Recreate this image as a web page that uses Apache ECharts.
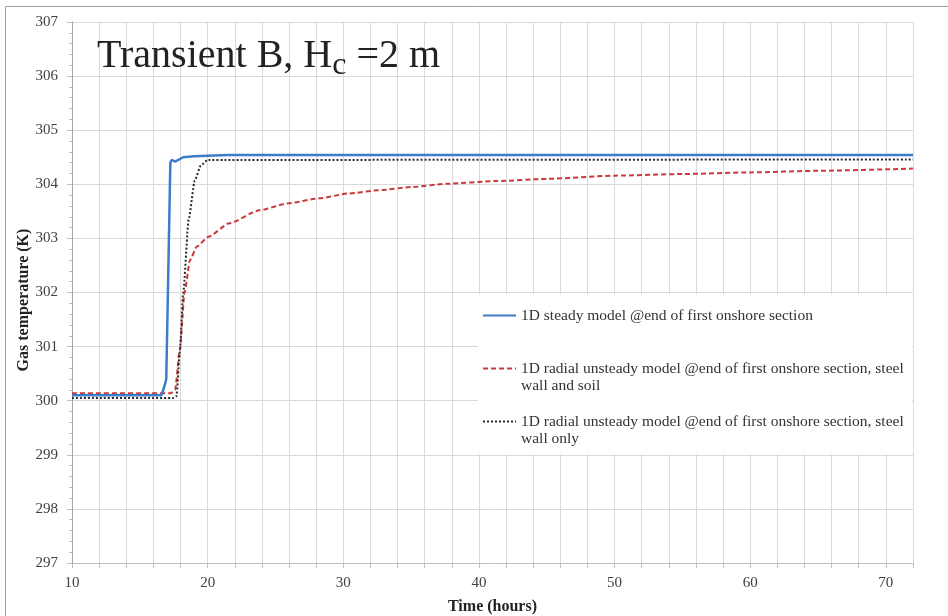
<!DOCTYPE html>
<html>
<head>
<meta charset="utf-8">
<script src="https://cdn.jsdelivr.net/npm/echarts@6/dist/echarts.min.js"></script>
<style>html,body{margin:0;padding:0;background:#fff}#c{width:948px;height:616px}</style>
</head>
<body>
<div id="c"></div>
<script>
// ---- data ----
var seriesNames = [
  '1D steady model @end of first onshore section',
  '1D radial unsteady model @end of first onshore section, steel wall and soil',
  '1D radial unsteady model @end of first onshore section, steel wall only'
];
var steadyT = [10, 16.6, 16.85, 16.95, 17.25, 17.35, 17.6, 18.2, 19.0, 21.5, 72];
var steadyK = [300.1, 300.1, 300.3, 300.4, 304.4, 304.45, 304.42, 304.5, 304.52, 304.54, 304.54];
var soilT = [10, 17.3, 17.6, 17.95, 18.3, 18.7, 19.2, 20.05, 21.6, 23.8, 26, 28.2, 30.4, 32.6, 35.1, 37.6, 41.3, 45, 50, 55, 60, 65, 72];
var soilK = [300.14, 300.14, 300.2, 300.94, 302.0, 302.6, 302.85, 303.03, 303.28, 303.52, 303.65, 303.74, 303.83, 303.89, 303.95, 304.01, 304.06, 304.1, 304.16, 304.19, 304.22, 304.25, 304.29];
var wallT = [10, 17.5, 17.7, 17.95, 18.2, 18.6, 19.05, 19.5, 20.0, 72];
var wallK = [300.05, 300.05, 300.08, 300.9, 302.0, 303.35, 304.07, 304.35, 304.45, 304.46];
var xTickLabels = [10, 20, 30, 40, 50, 60, 70];

function zip(t, k) { return t.map(function (v, i) { return [v, k[i]]; }); }

var FONT = 'Liberation Serif';
var chart = echarts.init(document.getElementById('c'), null, { renderer: 'canvas' });

// two-line entries get a leading empty line so the first text line sits level with the icon
function legendOf(name, top) {
  return {
    orient: 'horizontal', left: 482, top: top, padding: 0,
    itemWidth: 33, itemHeight: 12, selectedMode: false,
    itemStyle: { opacity: 0 },
    formatter: function (n) {
      return n.indexOf(', steel wall') >= 0 ? '\n' + n.replace(', steel wall', ', steel\nwall') : n;
    },
    textStyle: { fontFamily: FONT, fontSize: 15.5, color: '#333', lineHeight: 17 },
    data: [name]
  };
}

chart.setOption({
  animation: false,
  backgroundColor: '#fff',
  title: {
    left: 97, top: 30, padding: 0,
    text: '{a|Transient B, H}{b|c}{a| =2 m}',
    textStyle: {
      rich: {
        a: { fontFamily: FONT, fontSize: 40, fontWeight: 'normal', color: '#222' },
        b: { fontFamily: FONT, fontSize: 32, fontWeight: 'normal', color: '#222', padding: [20, 0, 0, 0] }
      }
    }
  },
  graphic: {
    elements: [
      { type: 'rect', z: -10, silent: true, shape: { x: 5.5, y: 6.5, width: 960, height: 640 }, style: { fill: 'none', stroke: '#a0a0a0', lineWidth: 1 } },
      { type: 'rect', z: 1, silent: true, shape: { x: 478, y: 294, width: 434, height: 160 }, style: { fill: '#fff' } }
    ]
  },
  legend: [
    legendOf(seriesNames[0], 307),
    legendOf(seriesNames[1], 343),
    legendOf(seriesNames[2], 396)
  ],
  grid: { left: 72, right: 35, top: 22, bottom: 53, containLabel: false, outerBoundsMode: 'none' },
  xAxis: {
    type: 'value', min: 10, max: 72, interval: 2,
    name: 'Time (hours)', nameLocation: 'middle', nameGap: 36, nameMoveOverlap: false,
    nameTextStyle: { fontFamily: FONT, fontSize: 16, fontWeight: 'bold', color: '#222' },
    axisLine: { show: true, lineStyle: { color: '#bfbfbf', width: 1 } },
    axisTick: { show: true, length: 5, lineStyle: { color: '#bfbfbf' } },
    axisLabel: {
      margin: 13, fontFamily: FONT, fontSize: 15, color: '#404040',
      formatter: function (v) { return xTickLabels.indexOf(v) >= 0 ? String(v) : ''; }
    },
    splitLine: { show: true, lineStyle: { color: '#d9d9d9', width: 1 } }
  },
  yAxis: {
    type: 'value', min: 297, max: 307, interval: 1,
    name: 'Gas temperature (K)', nameLocation: 'middle', nameGap: 40, nameMoveOverlap: false,
    nameTextStyle: { fontFamily: FONT, fontSize: 16, fontWeight: 'bold', color: '#222', padding: [0, 15, 0, 0] },
    axisLine: { show: true, lineStyle: { color: '#a6a6a6', width: 1 } },
    axisTick: { show: true, length: 5, lineStyle: { color: '#bfbfbf' } },
    minorTick: { show: true, splitNumber: 5, length: 3, lineStyle: { color: '#bfbfbf' } },
    axisLabel: { margin: 14, fontFamily: FONT, fontSize: 15, color: '#404040' },
    splitLine: { show: true, lineStyle: { color: '#d9d9d9', width: 1 } }
  },
  series: [
    {
      name: seriesNames[0], type: 'line', data: zip(steadyT, steadyK),
      showSymbol: false, symbol: 'none', z: 4,
      lineStyle: { color: '#3c7dca', width: 2.5 }, itemStyle: { color: '#3c7dca' }
    },
    {
      name: seriesNames[1], type: 'line', data: zip(soilT, soilK),
      showSymbol: false, symbol: 'none', smooth: 0.2, smoothMonotone: 'x', z: 3,
      lineStyle: { color: '#c9383a', width: 2, type: [5, 3] }, itemStyle: { color: '#c9383a' }
    },
    {
      name: seriesNames[2], type: 'line', data: zip(wallT, wallK),
      showSymbol: false, symbol: 'none', smooth: 0.2, smoothMonotone: 'x', z: 3,
      lineStyle: { color: '#2a2a2a', width: 2, type: [2, 2] }, itemStyle: { color: '#2a2a2a' }
    }
  ]
});
</script>
</body>
</html>
